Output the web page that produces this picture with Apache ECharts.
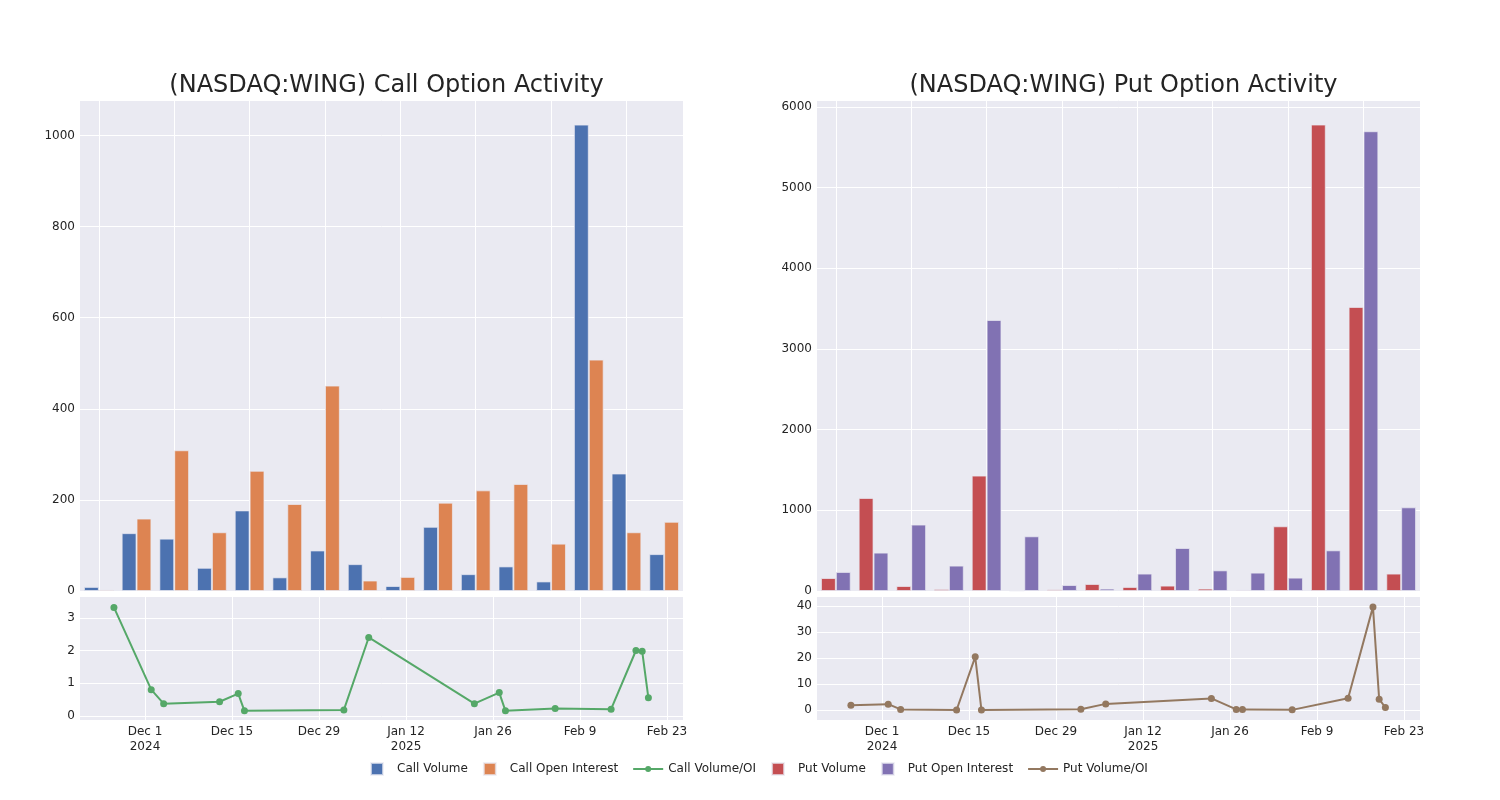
<!DOCTYPE html>
<html><head><meta charset="utf-8">
<script src="https://cdn.jsdelivr.net/npm/echarts@6/dist/echarts.min.js"></script>
<style>html,body{margin:0;padding:0;background:#fff}#c{width:1500px;height:800px}</style>
</head><body><div id="c"></div>
<script>
// ---- data ----
const dates = ['2024-11-26','2024-12-02','2024-12-04','2024-12-13','2024-12-16','2024-12-17','2025-01-02','2025-01-06','2025-01-23','2025-01-27','2025-01-28','2025-02-05','2025-02-14','2025-02-18','2025-02-19','2025-02-20'];
const callVolume = [9,127,115,51,177,30,89,59,11,141,37,54,21,1024,258,81];
const callOpenInterest = [3,159,309,129,264,191,451,23,31,194,221,235,104,508,129,152];
const callRatio = [3.32,0.80,0.37,0.43,0.68,0.15,0.18,2.40,0.37,0.71,0.15,0.22,0.20,2.00,1.98,0.55];
const putVolume = [161,1153,62,25,1430,5,20,87,50,67,30,15,802,5780,3520,216];
const putOpenInterest = [236,476,823,315,3358,678,74,30,216,533,256,228,166,504,5697,1037];
const putRatio = [1.9,2.3,0.27,0.05,20.5,0.05,0.35,2.4,4.5,0.27,0.25,0.1,4.6,39.7,4.2,1.0];
const timeTickDates = ['2024-12-01','2024-12-15','2024-12-29','2025-01-12','2025-01-26','2025-02-09','2025-02-23'];
const timeTickLabels = ['Dec 1\n2024','Dec 15','Dec 29','Jan 12\n2025','Jan 26','Feb 9','Feb 23'];
const callRatioTicks = [0,1,2,3];
const putRatioTicks = [0,10,20,30,40];

// ---- helpers ----
function ts(s){ const p = s.split('-').map(Number); return Date.UTC(p[0], p[1]-1, p[2]); }
const DAY = 86400000;
const tickTs = timeTickDates.map(ts);
const labelMap = {}; tickTs.forEach((t,i)=>{ labelMap[t] = timeTickLabels[i]; });
const xMin = ts('2024-12-01') - 10.46*DAY;
const xMax = ts('2025-02-23') + 2.57*DAY;

const FONT = 'DejaVu Sans';
const TXT = '#242424';
const BG = '#EAEAF2';
const C = {cv:'#4C72B0', coi:'#DD8452', cr:'#55A868', pv:'#C44E52', poi:'#8172B3', pr:'#937860'};
const plain = function(v){ return String(v); };

function grid(left, top, h){ return {left:left, top:top, width:603, height:h, show:true, backgroundColor:BG, borderWidth:0, containLabel:false}; }
function catAxis(gi){
  return {type:'category', gridIndex:gi, data:dates, boundaryGap:true,
    axisLabel:{show:false}, axisLine:{show:false}, axisTick:{show:false},
    splitLine:{show:true, alignWithLabel:true, interval:function(i){return i%2===0;}, lineStyle:{color:'#fff', width:1}}};
}
function dateAxis(gi){
  return {type:'value', gridIndex:gi, min:xMin, max:xMax, scale:true,
    axisLine:{show:false},
    axisTick:{show:false, customValues:tickTs},
    axisLabel:{customValues:tickTs, formatter:function(v){ return labelMap[v] !== undefined ? labelMap[v] : ''; },
      color:TXT, fontFamily:FONT, fontSize:12, lineHeight:15, margin:4, hideOverlap:false},
    splitLine:{show:true, lineStyle:{color:'#fff', width:1}}};
}
function valAxis(gi, min, max, interval){
  return {type:'value', gridIndex:gi, min:min, max:max, interval:interval,
    axisLine:{show:false}, axisTick:{show:false},
    axisLabel:{color:TXT, fontFamily:FONT, fontSize:12, margin:5, showMaxLabel:false, formatter:plain},
    splitLine:{show:true, lineStyle:{color:'#fff', width:1}}};
}
function ratioAxis(gi, min, max, ticks){
  return {type:'value', gridIndex:gi, min:min, max:max,
    axisLine:{show:false}, axisTick:{show:false, customValues:ticks},
    axisLabel:{customValues:ticks, color:TXT, fontFamily:FONT, fontSize:12, margin:5, formatter:plain},
    splitLine:{show:true, lineStyle:{color:'#fff', width:1}}};
}
function barSeries(name, data, color, xi, yi){
  return {name:name, type:'bar', xAxisIndex:xi, yAxisIndex:yi, data:data,
    barGap:'0%', barCategoryGap:'21%',
    itemStyle:{color:color, borderColor:'rgba(234,234,242,0.7)', borderWidth:1}};
}
function lineSeries(name, vals, color, xi, yi){
  return {name:name, type:'line', xAxisIndex:xi, yAxisIndex:yi,
    data:dates.map((d,i)=>[ts(d), vals[i]]),
    symbol:'circle', symbolSize:7, showSymbol:true,
    lineStyle:{color:color, width:2}, itemStyle:{color:color}};
}
const sq = 'path://M0,0H10V10H0Z';
const lineIcon = 'path://M0,4.1H30V5.9H0Z M12,5A3,3 0 1 1 18,5A3,3 0 1 1 12,5Z';

const option = {
  animation:false,
  backgroundColor:'#fff',
  textStyle:{fontFamily:FONT},
  title:[
    {text:'(NASDAQ:WING) Call Option Activity', left:381.5, top:69, textAlign:'center',
      textStyle:{fontFamily:FONT, fontSize:24, fontWeight:'normal', color:TXT}},
    {text:'(NASDAQ:WING) Put Option Activity', left:1118.5, top:69, textAlign:'center',
      textStyle:{fontFamily:FONT, fontSize:24, fontWeight:'normal', color:TXT}}
  ],
  legend:{
    left:365, top:757, itemWidth:30, itemHeight:12, itemGap:15, symbolKeepAspect:true,
    textStyle:{fontFamily:FONT, fontSize:12, color:TXT},
    data:[
      {name:'Call Volume', icon:sq},
      {name:'Call Open Interest', icon:sq},
      {name:'Call Volume/OI', icon:lineIcon},
      {name:'Put Volume', icon:sq},
      {name:'Put Open Interest', icon:sq},
      {name:'Put Volume/OI', icon:lineIcon}
    ]
  },
  grid:[grid(80,100,491), grid(80,597,123), grid(817,100,491), grid(817,597,123)],
  xAxis:[catAxis(0), dateAxis(1), catAxis(2), dateAxis(3)],
  yAxis:[valAxis(0,0,1078,200), ratioAxis(1,-0.13,3.64,callRatioTicks), valAxis(2,0,6084,1000), ratioAxis(3,-3.8,43.5,putRatioTicks)],
  series:[
    barSeries('Call Volume', callVolume, C.cv, 0, 0),
    barSeries('Call Open Interest', callOpenInterest, C.coi, 0, 0),
    lineSeries('Call Volume/OI', callRatio, C.cr, 1, 1),
    barSeries('Put Volume', putVolume, C.pv, 2, 2),
    barSeries('Put Open Interest', putOpenInterest, C.poi, 2, 2),
    lineSeries('Put Volume/OI', putRatio, C.pr, 3, 3)
  ]
};
const chart = echarts.init(document.getElementById('c'), null, {renderer:'canvas'});
chart.setOption(option);
</script></body></html>
